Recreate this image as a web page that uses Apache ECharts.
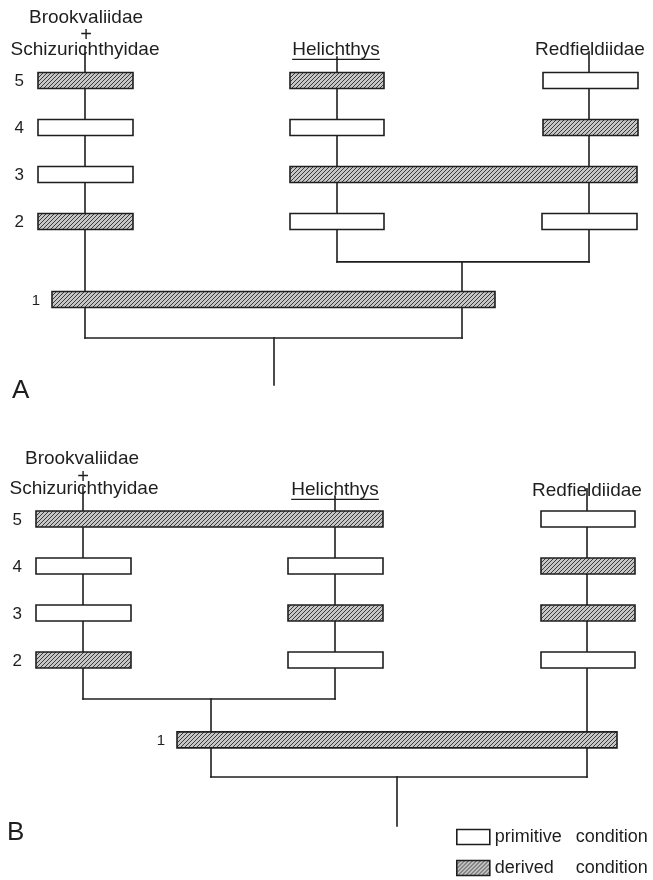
<!DOCTYPE html>
<html><head><meta charset="utf-8">
<script src="https://cdn.jsdelivr.net/npm/echarts@6/dist/echarts.min.js"></script>
<style>html,body{margin:0;padding:0;background:#fff}#c{width:653px;height:880px}</style>
</head><body><div id="c"></div>
<script>
// ---- data ----
// vertical level of each character row (index = character number)
const charLevelsA = [null, 0.34, 2, 3, 4, 5];
const charLevelsB = [null, 0.30, 2, 3, 4, 5];
const states = ['primitive condition', 'derived condition'];
// bars: [start, end, character, state (0 primitive, 1 derived)]
const barsA = [
  [38, 133, 5, 1], [38, 133, 4, 0], [38, 133, 3, 0], [38, 133, 2, 1],
  [290, 384, 5, 1], [290, 384, 4, 0], [290, 637, 3, 1], [290, 384, 2, 0],
  [543, 638, 5, 0], [543, 638, 4, 1], [542, 637, 2, 0],
  [52, 495, 1, 1]
];
const barsB = [
  [36, 383, 5, 1], [36, 131, 4, 0], [36, 131, 3, 0], [36, 131, 2, 1],
  [288, 383, 4, 0], [288, 383, 3, 1], [288, 383, 2, 0],
  [541, 635, 5, 0], [541, 635, 4, 1], [541, 635, 3, 1], [541, 635, 2, 0],
  [177, 617, 1, 1]
];
// tree segments: [x1, level1, x2, level2]
const treeA = [
  [85, 5.71, 85, -0.48],
  [337, 5.50, 337, 1.14],
  [589, 5.61, 589, 1.14],
  [337, 1.14, 589, 1.14],
  [462, 1.14, 462, -0.48],
  [85, -0.48, 462, -0.48],
  [274, -0.48, 274, -1.48]
];
const treeB = [
  [83, 5.68, 83, 1.17],
  [335, 5.49, 335, 1.17],
  [83, 1.17, 335, 1.17],
  [211, 1.17, 211, -0.49],
  [587, 5.64, 587, -0.49],
  [211, -0.49, 587, -0.49],
  [397, -0.49, 397, -1.53]
];
// taxon labels: [x, level, text, underlined]
const taxaA = [
  [86, 6.34, 'Brookvaliidae', 0], [86, 5.95, '+', 0], [85, 5.65, 'Schizurichthyidae', 0],
  [336, 5.65, 'Helichthys', 1], [590, 5.65, 'Redfieldiidae', 0]
];
const taxaB = [
  [82, 6.28, 'Brookvaliidae', 0], [83, 5.88, '+', 0], [84, 5.64, 'Schizurichthyidae', 0],
  [335, 5.62, 'Helichthys', 1], [587, 5.61, 'Redfieldiidae', 0]
];
const panelLetters = ['A', 'B'];

// ---- styles ----
const INK = '#1e1e1e';
const FONT = '"Liberation Sans", Arial, sans-serif';
const pc = document.createElement('canvas'); pc.width = 4; pc.height = 4;
const g = pc.getContext('2d');
g.fillStyle = '#c6c6c6'; g.fillRect(0, 0, 4, 4);
g.strokeStyle = '#3a3a3a'; g.lineWidth = 1;
g.beginPath();
g.moveTo(0, 4); g.lineTo(4, 0);
g.moveTo(-1, 1); g.lineTo(1, -1);
g.moveTo(3, 5); g.lineTo(5, 3);
g.stroke();
const hatch = { image: pc, repeat: 'repeat' };
const mc = document.createElement('canvas').getContext('2d');
function textWidth(t, size) { mc.font = size + 'px ' + FONT; return mc.measureText(t).width; }

function buildBars(bars, state) {
  // label the leftmost bar of each character row
  return bars.filter(b => b[3] === state).map(b => {
    const leftmost = bars.filter(o => o[2] === b[2]).every(o => o[0] >= b[0]);
    return [b[0], b[1], b[2], b[3], leftmost ? 1 : 0];
  });
}
function barSeries(bars, levels, state, gi) {
  return {
    type: 'custom', name: states[state], xAxisIndex: gi, yAxisIndex: gi, z: 3,
    silent: true, clip: false,
    itemStyle: { color: state ? hatch : '#fff', borderColor: INK, borderWidth: 1.6 },
    data: buildBars(bars, state),
    renderItem: (params, api) => {
      const x0 = api.value(0), x1 = api.value(1), ch = api.value(2), st = api.value(3);
      const lv = levels[ch];
      const p0 = api.coord([x0, lv + 0.17]);
      const p1 = api.coord([x1, lv - 0.17]);
      const children = [{
        type: 'rect',
        shape: { x: p0[0], y: p0[1], width: p1[0] - p0[0], height: p1[1] - p0[1] },
        style: { fill: st ? hatch : '#fff', stroke: INK, lineWidth: 1.6 }
      }];
      if (api.value(4)) {
        children.push({
          type: 'text',
          style: { text: String(ch), x: p0[0] - (ch === 1 ? 12 : 14), y: (p0[1] + p1[1]) / 2 + 1,
            align: 'right', verticalAlign: 'middle',
            font: (ch === 1 ? '15px ' : '17px ') + FONT, fill: INK }
        });
      }
      return { type: 'group', children };
    }
  };
}
function treeSeries(tree, gi) {
  return {
    type: 'custom', xAxisIndex: gi, yAxisIndex: gi, z: 1, silent: true, clip: false,
    data: tree,
    renderItem: (params, api) => {
      const a = api.coord([api.value(0), api.value(1)]);
      const b = api.coord([api.value(2), api.value(3)]);
      return { type: 'line', shape: { x1: a[0], y1: a[1], x2: b[0], y2: b[1] },
        style: { stroke: INK, lineWidth: 1.6, lineCap: 'square' } };
    }
  };
}
function taxaSeries(taxa, gi) {
  return {
    type: 'custom', xAxisIndex: gi, yAxisIndex: gi, z: 2, silent: true, clip: false,
    data: taxa.map(t => [t[0], t[1]]),
    renderItem: (params, api) => {
      const t = taxa[params.dataIndex];
      const p = api.coord([api.value(0), api.value(1)]);
      const size = t[2] === '+' ? 20 : 19;
      const children = [{
        type: 'text',
        style: { text: t[2], x: p[0], y: p[1], align: 'center', verticalAlign: 'middle',
          font: size + 'px ' + FONT, fill: INK }
      }];
      if (t[3]) {
        const w = textWidth(t[2], size);
        children.push({ type: 'line',
          shape: { x1: p[0] - w / 2, y1: p[1] + 9.5, x2: p[0] + w / 2, y2: p[1] + 9.5 },
          style: { stroke: INK, lineWidth: 1.3 } });
      }
      return { type: 'group', children };
    }
  };
}

const legendText = {
  formatter: n => '{w|' + n.split(' ')[0] + '}' + n.split(' ')[1],
  textStyle: { fontFamily: FONT, fontSize: 18, color: INK, lineHeight: 16,
    rich: { w: { width: 81, fontFamily: FONT, fontSize: 18, color: INK, lineHeight: 16 } } }
};
function legendFor(i, top) {
  return Object.assign({
    left: 456, top: top, padding: 0, orient: 'vertical', itemWidth: 33, itemHeight: 15,
    selectedMode: false, icon: 'rect',
    data: [{ name: states[i], itemStyle: { color: i ? hatch : '#fff', borderColor: INK, borderWidth: 1.6 } }]
  }, legendText);
}

const chart = echarts.init(document.getElementById('c'), null, { renderer: 'canvas' });
chart.setOption({
  backgroundColor: '#fff',
  animation: false,
  grid: [
    { left: 0, top: 33.5, width: 653, height: 376 },
    { left: 0, top: 472, width: 653, height: 376 }
  ],
  xAxis: [0, 1].map(i => ({ type: 'value', gridIndex: i, min: 0, max: 653, show: false })),
  yAxis: [0, 1].map(i => ({ type: 'value', gridIndex: i, min: -2, max: 6, show: false })),
  legend: [legendFor(0, 828), legendFor(1, 859)],
  graphic: [
    { type: 'text', left: 12, top: 378, style: { text: panelLetters[0], font: '26px ' + FONT, fill: INK } },
    { type: 'text', left: 7, top: 820, style: { text: panelLetters[1], font: '26px ' + FONT, fill: INK } }
  ],
  series: [
    treeSeries(treeA, 0), treeSeries(treeB, 1),
    taxaSeries(taxaA, 0), taxaSeries(taxaB, 1),
    barSeries(barsA, charLevelsA, 0, 0), barSeries(barsA, charLevelsA, 1, 0),
    barSeries(barsB, charLevelsB, 0, 1), barSeries(barsB, charLevelsB, 1, 1)
  ]
});
</script></body></html>
